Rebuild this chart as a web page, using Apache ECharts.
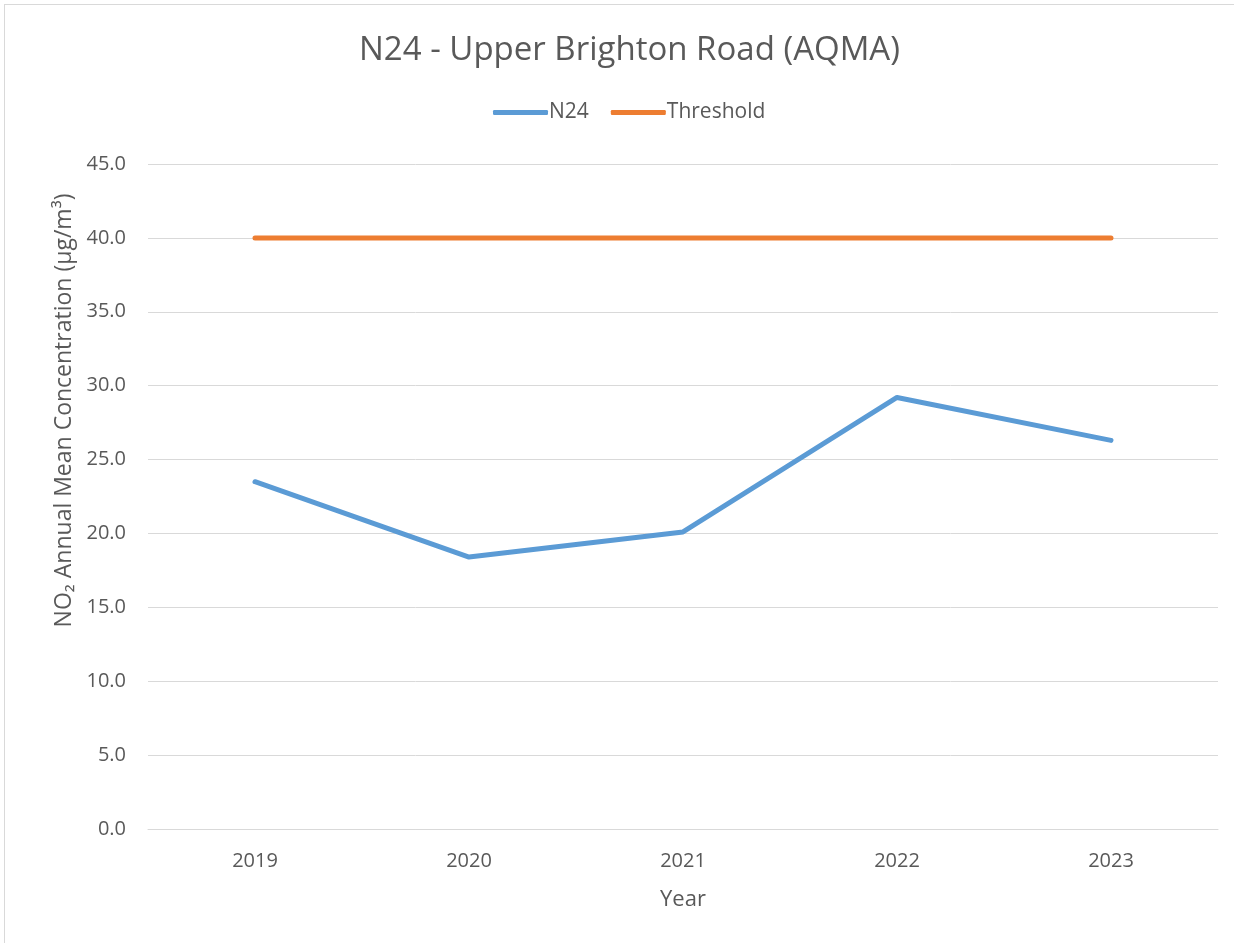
<!DOCTYPE html>
<html>
<head>
<meta charset="utf-8">
<title>N24 - Upper Brighton Road (AQMA)</title>
<script src="https://cdn.jsdelivr.net/npm/echarts@6/dist/echarts.min.js"></script>
<style>
  html, body { margin: 0; padding: 0; background: #fff; }
  #frame {
    position: absolute; left: 4px; top: 4px; width: 1240px; height: 950px;
    border: 1px solid #d9d9d9; box-sizing: border-box;
  }
  #chart { position: absolute; left: 0; top: 0; width: 1234px; height: 943px; }
</style>
</head>
<body>
<div id="frame"></div>
<div id="chart"></div>
<script>
const years = ['2019', '2020', '2021', '2022', '2023']
const n24Values = [23.5, 18.4, 20.1, 29.2, 26.3]
const thresholdValues = [40, 40, 40, 40, 40]

const FONT = '"Open Sans", "Noto Sans", sans-serif'
const TEXT = '#595959'
const GRID_LINE = '#d9d9d9'

const chart = echarts.init(document.getElementById('chart'))

chart.setOption({
  animation: false,
  textStyle: { fontFamily: FONT, color: TEXT },
  title: {
    text: 'N24 - Upper Brighton Road (AQMA)',
    left: 359,
    top: 34,
    padding: 0,
    textStyle: { fontFamily: FONT, fontSize: 33, fontWeight: 'normal', color: TEXT },
  },
  legend: {
    top: 102,
    left: 493,
    padding: 0,
    itemWidth: 55,
    itemHeight: 5,
    itemGap: 22,
    textStyle: { fontFamily: FONT, fontSize: 21, color: TEXT, padding: [0, 0, 0, -4] },
    data: [
      { name: 'N24', icon: 'roundRect' },
      { name: 'Threshold', icon: 'roundRect' },
    ],
  },
  grid: { left: 148, right: 16, top: 164, bottom: 114, containLabel: false },
  xAxis: {
    type: 'category',
    data: years,
    boundaryGap: true,
    name: 'Year',
    nameLocation: 'middle',
    nameGap: 60,
    nameTextStyle: { fontFamily: FONT, fontSize: 22, color: TEXT },
    axisLine: { lineStyle: { color: GRID_LINE, width: 1 } },
    axisTick: { show: false },
    axisLabel: { fontFamily: FONT, fontSize: 20, color: TEXT, margin: 22 },
  },
  yAxis: {
    type: 'value',
    min: 0,
    max: 45,
    interval: 5,
    name: 'NO₂ Annual Mean Concentration (µg/m³)',
    nameLocation: 'middle',
    nameGap: 72,
    nameTextStyle: { fontFamily: FONT, fontSize: 23, color: TEXT, padding: [0, 0, 0, 172] },
    axisLine: { show: false },
    axisTick: { show: false },
    axisLabel: {
      fontFamily: FONT, fontSize: 20, color: TEXT, margin: 22,
      formatter: (v) => v.toFixed(1),
    },
    splitLine: { lineStyle: { color: GRID_LINE, width: 1 } },
  },
  series: [
    {
      name: 'N24',
      type: 'line',
      data: n24Values,
      symbol: 'none',
      lineStyle: { color: '#5b9bd5', width: 5, cap: 'round', join: 'round' },
      itemStyle: { color: '#5b9bd5' },
    },
    {
      name: 'Threshold',
      type: 'line',
      data: thresholdValues,
      symbol: 'none',
      lineStyle: { color: '#ed7d31', width: 5, cap: 'round' },
      itemStyle: { color: '#ed7d31' },
    },
  ],
})
</script>
</body>
</html>
